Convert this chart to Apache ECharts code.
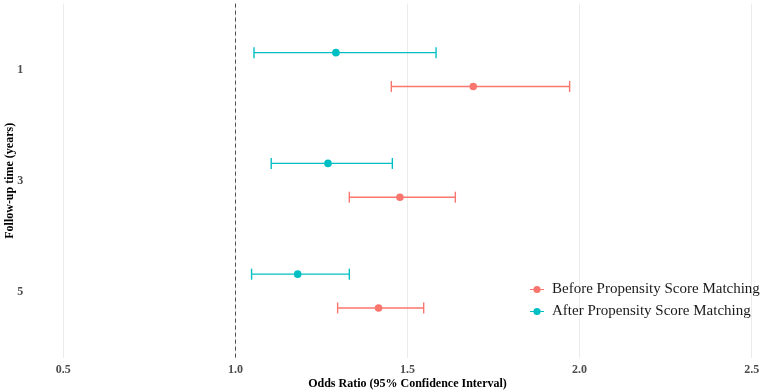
<!DOCTYPE html>
<html>
<head>
<meta charset="utf-8">
<script src="https://cdn.jsdelivr.net/npm/echarts@6/dist/echarts.min.js"></script>
<style>
  html, body { margin: 0; padding: 0; background: #fff; }
  #chart { width: 767px; height: 392px; }
</style>
</head>
<body>
<div id="chart"></div>
<script>
var years = ['1', '3', '5'];
var beforeOR = [1.691, 1.478, 1.416];
var beforeLo = [1.453, 1.331, 1.297];
var beforeHi = [1.971, 1.639, 1.547];
var afterOR = [1.292, 1.269, 1.181];
var afterLo = [1.054, 1.104, 1.047];
var afterHi = [1.583, 1.456, 1.331];

var RED = '#F8766D', TEAL = '#00BFC4';
var FONT = '"Liberation Serif", "Times New Roman", serif';

// dodge: after sits above the year, before below
function build(lo, mid, hi, shift) {
    return years.map(function (y, i) {
        return [lo[i], mid[i], hi[i], i + 1 + shift];
    });
}

function errItem(color) {
    return function (params, api) {
        var y = api.value(3);
        var a = api.coord([api.value(0), y]);
        var m = api.coord([api.value(1), y]);
        var b = api.coord([api.value(2), y]);
        var st = { stroke: color, lineWidth: 1.4 };
        return {
            type: 'group',
            children: [
                { type: 'line', shape: { x1: a[0], y1: a[1], x2: b[0], y2: b[1] }, style: st },
                { type: 'line', shape: { x1: a[0], y1: a[1] - 5.5, x2: a[0], y2: a[1] + 5.5 }, style: st },
                { type: 'line', shape: { x1: b[0], y1: b[1] - 5.5, x2: b[0], y2: b[1] + 5.5 }, style: st },
                { type: 'circle', shape: { cx: m[0], cy: m[1], r: 3.8 }, style: { fill: color } }
            ]
        };
    };
}

var legendIcon = 'path://M0,3.4h14v1.2h-14z M10.6,4A3.6,3.6 0 1 1 3.4,4A3.6,3.6 0 1 1 10.6,4z';

var myChart = echarts.init(document.getElementById('chart'));
var option = {
    backgroundColor: '#fff',
    animation: false,
    grid: { left: 63.3, right: 15.3, top: 3.6, bottom: 34, outerBoundsMode: 'none', containLabel: false },
    legend: {
        orient: 'vertical',
        left: 525,
        top: 277,
        itemWidth: 14,
        itemHeight: 8,
        itemGap: 7,
        icon: legendIcon,
        textStyle: { fontFamily: FONT, fontSize: 15, color: '#1a1a1a', padding: [0, 0, 0, 3] },
        data: [
            { name: 'Before Propensity Score Matching', itemStyle: { color: RED } },
            { name: 'After Propensity Score Matching', itemStyle: { color: TEAL } }
        ]
    },
    xAxis: {
        type: 'value',
        min: 0.5,
        max: 2.5,
        interval: 0.5,
        name: 'Odds Ratio (95% Confidence Interval)',
        nameLocation: 'middle',
        nameGap: 20,
        nameMoveOverlap: false,
        nameTextStyle: { fontFamily: FONT, fontSize: 12, fontWeight: 'bold', color: '#000' },
        axisLine: { show: false },
        axisTick: { show: false },
        axisLabel: {
            margin: 6,
            fontFamily: FONT, fontSize: 12, fontWeight: 'bold', color: '#4d4d4d',
            formatter: function (v) { return v.toFixed(1); }
        },
        splitLine: { show: true, lineStyle: { color: '#ebebeb', width: 1 } }
    },
    yAxis: {
        type: 'value',
        min: 0.4,
        max: 3.6,
        inverse: true,
        name: 'Follow-up time (years)',
        nameLocation: 'middle',
        nameGap: 47,
        nameMoveOverlap: false,
        nameTextStyle: { fontFamily: FONT, fontSize: 12, fontWeight: 'bold', color: '#000' },
        axisLine: { show: false },
        axisTick: { show: false },
        splitLine: { show: false },
        axisLabel: {
            customValues: [1, 2, 3],
            margin: 40,
            fontFamily: FONT, fontSize: 12, fontWeight: 'bold', color: '#4d4d4d',
            formatter: function (v) { return years[Math.round(v) - 1] || ''; }
        }
    },
    series: [
        {
            name: 'Before Propensity Score Matching',
            type: 'custom',
            itemStyle: { color: RED },
            renderItem: errItem(RED),
            encode: { x: [0, 1, 2], y: 3 },
            data: build(beforeLo, beforeOR, beforeHi, 0.148),
            markLine: {
                silent: true,
                symbol: 'none',
                label: { show: false },
                lineStyle: { color: '#4d4d4d', type: [4, 3], width: 1 },
                data: [{ xAxis: 1 }]
            }
        },
        {
            name: 'After Propensity Score Matching',
            type: 'custom',
            itemStyle: { color: TEAL },
            renderItem: errItem(TEAL),
            encode: { x: [0, 1, 2], y: 3 },
            data: build(afterLo, afterOR, afterHi, -0.157)
        }
    ]
};
myChart.setOption(option);
</script>
</body>
</html>
